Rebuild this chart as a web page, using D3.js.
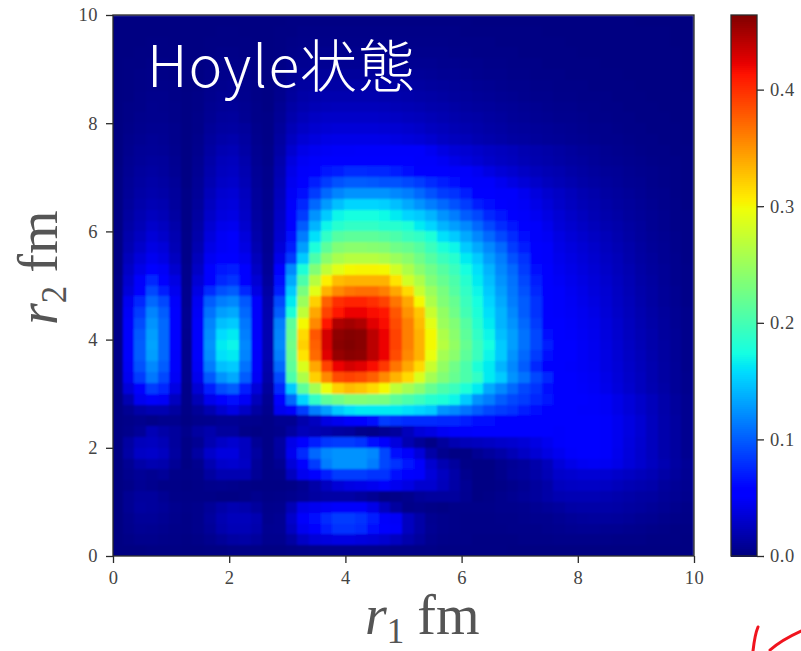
<!DOCTYPE html>
<html><head><meta charset="utf-8">
<script src="https://cdn.jsdelivr.net/npm/d3@7"></script>
<style>html,body{margin:0;padding:0;background:#fff}svg{display:block}</style>
</head><body><div id="c"></div>
<script>
const titleText = "Hoyle状態";
const xTicks = [0,2,4,6,8,10];
const yTicks = [0,2,4,6,8,10];
const cbTicks = [0,0.1,0.2,0.3,0.4];
const vMax = 0.464;
const r1Centers = d3.range(50).map(i => +(0.1 + 0.2 * i).toFixed(1));
const r2Centers = d3.range(50).map(i => +(9.9 - 0.2 * i).toFixed(1));
// density in thousandths, rows from r2 = 9.9 (top) down to r2 = 0.1
const density = [
[1,1,1,1,1,1,1,1,1,1,1,1,1,1, 1,2,2,2,2,2,2,2,2, 2,2,2,2,2,2,2,2,1,1,1,1,1,1,1,1, 1,1,1,1,1,1,0,0,0,0,0],
[1,1,1,1,1,1,1,1,1,2,2,1,1,1, 2,2,3,3,3,3,3,3,3, 3,3,3,3,3,3,3,2,2,2,2,2,2,2,1,1, 1,1,1,1,1,1,1,1,1,0,0],
[1,1,1,2,2,1,1,1,2,2,2,2,1,1, 2,3,4,4,4,4,4,4,4, 4,4,4,4,4,4,3,3,3,3,2,2,2,2,2,2, 1,1,1,1,1,1,1,1,1,0,0],
[1,1,2,2,2,2,1,1,2,3,3,2,2,1, 2,4,5,5,6,6,6,6,6, 6,6,5,5,5,5,4,4,3,3,3,3,2,2,2,2, 2,1,1,1,1,1,1,1,1,1,0],
[1,2,2,3,3,2,1,2,3,4,4,3,2,1, 3,6,7,8,8,8,8,8,8, 8,8,7,7,7,6,6,5,5,4,4,3,3,3,2,2, 2,2,2,1,1,1,1,1,1,1,0],
[1,2,3,4,3,2,1,2,4,5,5,4,2,1, 4,8,10,11,11,11,11,11,11, 11,11,10,10,9,8,8,7,6,5,5,4,4,3,3,3, 2,2,2,2,2,1,1,1,1,1,0],
[1,2,3,4,4,3,1,2,5,6,7,5,3,2, 5,10,13,14,15,15,15,15,15, 15,14,14,13,12,11,10,9,8,7,6,5,5,4,4,3, 3,3,2,2,2,2,1,1,1,1,0],
[1,2,4,5,5,3,2,3,6,8,8,6,3,2, 6,12,16,18,19,19,19,19,19, 18,18,17,16,15,14,12,11,10,9,8,7,6,5,5,4, 4,3,3,3,2,2,2,1,1,1,1],
[1,3,4,6,5,4,2,3,7,9,10,7,4,2, 8,15,19,22,23,24,24,24,24, 23,22,21,20,18,17,15,13,12,11,10,9,8,7,6,5, 5,4,4,3,3,2,2,2,1,1,1],
[1,3,5,6,6,4,2,4,8,11,12,8,4,3, 9,18,23,27,29,29,29,29,29, 28,27,25,24,22,20,18,16,15,13,12,10,9,8,7,6, 6,5,4,4,3,3,2,2,2,1,1],
[1,4,6,7,7,5,2,4,10,13,14,11,5,3, 11,22,28,32,34,35,35,35,35, 34,33,31,29,26,24,21,19,17,15,14,12,11,10,9,8, 7,6,5,5,4,3,3,2,2,2,1],
[1,5,7,9,8,5,2,5,12,16,18,13,6,3, 13,26,34,38,41,42,42,42,42, 41,39,37,35,32,28,25,23,20,18,16,14,13,11,10,9, 8,7,6,5,5,4,3,3,2,2,1],
[1,6,9,10,9,6,2,6,14,20,22,15,7,4, 15,32,42,46,48,49,49,50,50, 50,50,50,50,46,40,35,33,30,27,25,23,20,18,16,14, 12,10,9,7,6,5,4,3,3,2,2],
[1,7,10,12,11,7,2,7,16,23,25,18,8,4, 18,38,47,50,52,54,56,56,56, 55,54,52,50,50,47,42,38,34,30,27,25,22,19,17,15, 13,12,10,8,7,6,5,4,3,3,2],
[2,8,12,14,12,8,2,8,18,25,27,20,9,5, 20,42,50,58,66,72,78,78,76, 75,70,65,60,56,52,50,50,46,40,35,32,28,24,21,19, 16,14,12,10,9,7,6,5,4,3,2],
[2,9,13,16,14,10,2,9,20,28,30,22,10,5, 22,45,58,72,85,95,100,100,98, 95,95,90,85,78,70,62,56,50,50,45,40,35,30,25,22, 19,16,14,12,10,8,7,5,4,3,2],
[2,10,15,18,16,11,3,10,23,32,34,25,11,6, 24,48,65,85,105,118,125,125,125, 125,120,115,105,95,85,80,70,60,55,50,50,45,38,32,28, 24,20,17,14,12,10,8,6,5,3,2],
[2,11,17,21,19,12,3,11,26,35,37,27,12,6, 26,50,75,105,128,145,155,155,155, 152,145,135,125,115,105,95,85,72,62,56,50,48,42,36,30, 26,22,19,16,13,11,9,7,5,4,2],
[2,13,20,25,22,14,3,13,29,38,40,29,13,7, 28,52,85,125,150,170,175,175,175, 172,165,155,150,140,125,115,100,90,75,66,56,50,46,40,34, 29,25,21,18,15,12,10,8,6,4,3],
[2,15,22,30,26,17,3,15,33,43,45,32,15,7, 30,58,100,140,170,185,190,190,190, 185,185,180,165,155,140,130,120,105,90,78,67,56,50,44,36, 32,28,24,20,17,14,11,8,6,4,3],
[2,18,26,35,30,20,4,17,37,47,50,37,17,8, 32,65,115,160,190,210,215,215,215, 210,205,195,190,180,160,150,135,120,105,90,78,62,50,47,40, 35,31,27,23,19,15,12,9,7,5,3],
[2,20,30,40,36,22,4,20,41,48,50,40,20,8, 36,72,130,178,215,235,240,240,238, 235,225,220,210,195,180,170,150,135,120,105,85,72,56,50,42, 38,34,30,25,21,17,13,10,8,5,3],
[2,24,36,45,40,26,4,24,46,55,58,45,24,9, 42,85,150,205,240,258,265,265,265, 260,250,240,225,210,195,185,165,150,130,115,95,80,60,50,44, 40,36,32,27,23,18,14,11,8,6,3],
[2,28,42,52,48,32,5,28,52,66,70,52,28,10, 55,120,180,235,270,290,300,302,302, 300,280,260,240,225,210,195,175,160,140,120,105,85,65,52,46, 42,38,34,29,24,20,15,12,9,6,4],
[3,32,50,75,58,40,5,34,60,76,80,58,34,12, 62,135,205,265,305,330,335,335,335, 335,310,280,260,235,220,205,185,165,145,125,110,90,70,53,48, 44,40,36,31,26,21,16,13,9,6,4],
[3,36,56,90,70,45,6,40,78,94,100,75,40,15, 72,150,230,290,335,355,365,368,368, 360,340,315,275,250,230,210,190,170,150,130,112,95,75,55,50, 46,42,37,33,27,22,17,14,10,7,4],
[3,45,75,105,90,50,6,46,100,115,120,98,50,18, 90,165,250,320,375,400,405,405,400, 390,365,340,300,260,235,220,195,175,155,135,115,100,80,56,50, 47,43,39,34,28,23,18,14,10,7,4],
[4,48,85,118,100,52,7,48,110,130,135,105,50,19, 100,180,270,340,390,410,420,420,415, 410,380,350,325,275,245,225,200,180,160,140,120,100,80,58,50, 48,45,41,35,29,24,19,15,11,8,5],
[4,50,92,125,105,52,7,50,118,145,150,112,50,20, 115,215,300,355,410,445,450,445,425, 415,385,360,330,290,250,235,210,185,165,140,125,105,85,60,52, 49,46,43,37,31,25,20,16,12,8,5],
[4,50,98,130,105,52,6,50,122,158,165,116,50,20, 118,220,315,380,430,458,462,460,440, 420,390,360,335,300,260,240,215,190,170,145,130,110,90,65,55, 50,47,44,38,32,26,21,17,12,9,5],
[4,50,100,132,105,52,5,50,125,165,170,120,52,20, 120,225,320,375,430,460,464,460,440, 420,390,360,335,300,265,245,220,195,175,150,130,110,90,70,56, 51,48,45,39,33,27,22,17,13,9,5],
[4,50,100,130,105,50,5,50,122,160,165,118,50,20, 115,220,310,370,425,455,460,458,440, 420,385,355,335,295,255,240,215,195,170,150,125,105,85,62,54, 51,48,45,40,34,28,23,18,13,9,5],
[3,48,95,120,100,50,5,48,114,145,150,110,50,18, 105,215,285,340,390,420,430,425,415, 395,365,340,315,275,245,225,205,180,165,140,120,100,75,58,52, 50,48,46,40,35,29,24,19,14,10,5],
[3,45,85,112,90,48,5,44,98,125,135,100,48,16, 90,205,260,320,355,385,390,385,375, 355,335,315,285,255,235,220,205,190,165,150,125,110,90,75,56, 52,49,47,42,36,30,25,19,14,10,6],
[3,36,58,85,75,40,4,34,72,92,100,72,36,12, 75,150,215,255,295,320,330,325,315, 300,270,255,240,220,205,195,180,165,135,120,105,90,80,65,55, 52,50,48,43,37,31,25,20,15,10,6],
[2,20,45,50,48,26,4,22,44,58,65,48,24,8, 55,105,155,190,215,225,235,235,232, 230,215,205,195,185,180,170,150,125,115,100,90,85,75,68,60, 54,51,50,48,42,36,30,24,17,12,7],
[2,8,16,20,20,13,3,10,20,32,40,28,14,6, 45,50,85,115,130,150,160,165,165, 165,165,160,155,150,125,120,110,100,90,85,80,70,65,60,55, 52,50,50,48,42,36,30,24,17,12,7],
[2,4,6,4,6,6,2,5,6,8,8,6,5,3, 7,7,18,26,40,45,50,56,65, 85,80,78,78,78,75,75,70,65,65,60,60,58,56,55,54, 52,51,51,50,45,39,33,25,18,13,7],
[2,5,10,22,16,12,5,13,18,12,12,4,2,3, 5,13,23,20,18,14,12,5,4, 8,12,24,36,40,47,50,50,52,54,54,53,52,52,51,50, 51,51,51,50,45,39,33,25,18,13,7],
[2,14,24,26,22,12,3,8,20,28,32,26,9,3, 14,42,55,72,82,85,85,80,65, 50,38,20,10,3,12,20,23,25,27,30,32,35,40,45,50, 52,52,52,50,45,38,32,25,18,13,7],
[2,15,28,30,26,13,3,14,30,38,38,26,13,3, 13,45,78,105,120,125,125,125,120, 90,65,50,36,16,6,2,2,8,12,16,22,28,34,40,45, 50,52,52,50,44,37,31,25,18,13,7],
[1,8,16,20,18,9,2,6,20,30,32,28,10,3, 8,36,52,85,115,125,125,125,115, 90,80,68,50,32,20,12,3,2,2,6,9,12,17,24,36, 42,46,47,46,42,36,31,26,20,14,9],
[1,6,9,7,10,4,3,4,13,20,20,20,9,3, 4,26,45,52,70,85,85,85,80, 80,65,52,50,36,26,16,6,2,2,5,10,12,16,22,30, 32,34,34,33,30,27,24,21,16,12,8],
[1,4,8,6,3,3,2,3,5,6,5,3,2,2, 2,3,7,16,26,35,40,42,45, 50,45,40,32,32,24,15,8,2,2,3,5,8,12,16,25, 27,28,28,27,24,21,19,17,12,9,7],
[1,8,12,12,8,4,3,3,3,2,2,3,6,3, 4,6,9,13,15,15,15,12,8, 2,3,5,10,12,12,12,7,2,3,5,7,10,12,16,20, 21,21,21,20,18,16,14,13,10,8,6],
[1,8,13,12,10,6,4,5,10,16,20,18,12,5, 6,22,42,45,48,50,50,50,42, 26,13,4,5,3,2,4,4,4,4,5,5,6,8,10,12, 15,16,16,16,15,13,12,10,8,6,4],
[1,6,10,10,8,5,3,5,12,20,24,24,20,6, 8,30,50,65,78,85,85,80,70, 50,48,26,16,7,5,4,3,3,3,4,4,5,6,6,8, 10,11,12,12,11,10,8,7,5,4,3],
[1,5,8,7,6,4,3,5,10,18,22,22,18,7, 8,26,45,60,72,80,80,78,65, 52,50,26,16,8,5,4,3,3,3,3,4,4,4,5,6, 7,8,8,7,7,6,5,4,3,2,2],
[1,3,5,5,4,3,2,3,6,10,14,15,12,6, 6,14,28,36,38,40,40,38,36, 32,26,18,12,6,4,3,3,2,2,2,2,3,3,3,4, 4,4,4,4,3,3,3,2,2,2,1],
[1,1,1,2,2,2,1,1,2,2,3,3,3,2, 2,3,4,5,6,6,6,6,6, 5,4,4,3,3,2,2,2,2,2,2,1,1,1,1,1, 1,1,1,1,1,1,1,1,1,1,1]
];

const W = 801, H = 651;
const L = 113, R = 694, T = 15, B = 556;
const cbL = 731, cbR = 757;

const svg = d3.select("#c").append("svg").attr("width", W).attr("height", H);
const defs = svg.append("defs");
defs.append("filter").attr("id","soft").attr("filterUnits","userSpaceOnUse")
  .attr("x",L).attr("y",T).attr("width",R-L).attr("height",B-T)
  .append("feGaussianBlur").attr("stdDeviation",0.8).attr("edgeMode","duplicate");

// jet colour channels as piecewise-linear scales
const ch = (d, r) => d3.scaleLinear().domain(d.map(v => v * vMax)).range(r).clamp(true);
const red = ch([0,.35,.66,.89,1],[0,0,1,1,.5]);
const grn = ch([0,.125,.375,.64,.91,1],[0,0,1,1,0,0]);
const blu = ch([0,.11,.34,.65,1],[.5,1,1,0,0]);
const jet = v => `rgb(${Math.round(red(v)*255)},${Math.round(grn(v)*255)},${Math.round(blu(v)*255)})`;

const xBand = d3.scaleBand().domain(r1Centers).range([L-2,R-1]);
const yBand = d3.scaleBand().domain(r2Centers).range([T,B]);
const x = d3.scaleLinear().domain([0,10]).range([L,R]);
const y = d3.scaleLinear().domain([0,10]).range([B,T]);

const heat = svg.append("g").attr("filter","url(#soft)").attr("shape-rendering","crispEdges");
heat.append("rect").attr("x",L).attr("y",T).attr("width",R-L).attr("height",B-T).attr("fill",jet(0.001));
heat.selectAll("g").data(density).join("g")
  .attr("transform",(d,i)=>`translate(0,${yBand(r2Centers[i])})`)
  .selectAll("rect").data(d=>d).join("rect")
  .attr("x",(d,i)=>xBand(r1Centers[i]))
  .attr("y",0)
  .attr("width",xBand.bandwidth()+1)
  .attr("height",yBand.bandwidth()+1)
  .attr("fill",d=>jet(d/1000));

const tickFont = "'Liberation Serif','DejaVu Serif',serif";
function styleAxis(g){
  g.select(".domain").remove();
  g.selectAll("line").attr("stroke","#2a2a2a").attr("stroke-width",1.3);
  g.selectAll("text").attr("font-family",tickFont).attr("font-size",18.5)
    .attr("letter-spacing",0.5).attr("fill","#444");
}
svg.append("g").attr("transform",`translate(0,${B})`)
  .call(d3.axisBottom(x).tickValues(xTicks).tickFormat(d3.format("d")).tickSize(7).tickPadding(8))
  .call(styleAxis);
svg.append("g").attr("transform",`translate(${L},0)`)
  .call(d3.axisLeft(y).tickValues(yTicks).tickFormat(d3.format("d")).tickSize(7).tickPadding(8))
  .call(styleAxis);
svg.append("rect").attr("x",L).attr("y",T).attr("width",R-L).attr("height",B-T)
  .attr("fill","none").attr("stroke","#2a2a2a").attr("stroke-width",1.3);

// colour bar
const yc = d3.scaleLinear().domain([0,vMax]).range([B,T]);
const cbVals = d3.range(0,vMax,vMax/270);
svg.append("g").attr("shape-rendering","crispEdges").selectAll("rect").data(cbVals).join("rect")
  .attr("x",cbL).attr("width",cbR-cbL)
  .attr("y",d=>yc(d)-(B-T)/270)
  .attr("height",(B-T)/270+1)
  .attr("fill",d=>jet(d));
svg.append("g").attr("transform",`translate(${cbR},0)`)
  .call(d3.axisRight(yc).tickValues(cbTicks).tickFormat(d3.format(".1f")).tickSize(7).tickPadding(6))
  .call(styleAxis);
svg.append("rect").attr("x",cbL).attr("y",T).attr("width",cbR-cbL).attr("height",B-T)
  .attr("fill","none").attr("stroke","#2a2a2a").attr("stroke-width",1.3);

// title
svg.append("text").attr("x",147).attr("y",87).attr("fill","#fff")
  .attr("font-family","'Noto Sans CJK JP','Noto Sans',sans-serif").attr("font-weight",300)
  .attr("font-size",57).attr("letter-spacing",1).text(titleText);

// axis labels
function axisLabel(sel, sub){
  sel.attr("font-family","'Liberation Serif',serif").attr("fill","#555").attr("font-size",56);
  sel.append("tspan").attr("font-style","italic").text("r");
  sel.append("tspan").attr("font-size",35).attr("dy",9).text(sub);
  sel.append("tspan").attr("dy",-9).attr("dx",13).text("fm");
}
svg.append("text").attr("x",365).attr("y",634).call(axisLabel,"1");
svg.append("text").attr("transform","translate(57,325) rotate(-90)").call(axisLabel,"2");

// red pen stroke at the corner of the screenshot
svg.append("path").attr("fill","none").attr("stroke","#f0141e").attr("stroke-width",3).attr("stroke-linecap","round")
  .attr("d","M758,627 C755,634 754,642 753,651 M801,631 C790,636 780,641 770,650");
</script></body></html>
